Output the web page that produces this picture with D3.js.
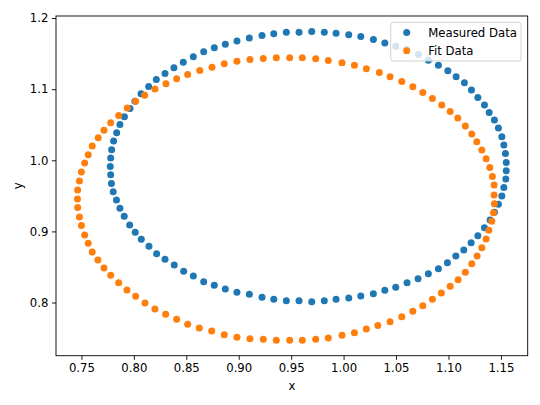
<!DOCTYPE html>
<html>
<head>
<meta charset="utf-8">
<script src="https://cdn.jsdelivr.net/npm/d3@7"></script>
<style>
  body { margin: 0; background: #fff; }
  svg { display: block; font-family: "DejaVu Sans", sans-serif; }
</style>
</head>
<body>
<svg id="chart" width="540" height="405"></svg>
<script>
// measured points
var measuredX = [1.1551,1.1551,1.1543,1.1528,1.1509,1.1476,1.1438,1.1388,1.1343,1.1280,
  1.1219,1.1152,1.1073,1.0994,1.0904,1.0808,1.0713,1.0602,1.0497,1.0393,
  1.0284,1.0164,1.0049,0.9928,0.9816,0.9696,0.9575,0.9454,0.9334,0.9222,
  0.9101,0.8983,0.8872,0.8767,0.8666,0.8567,0.8471,0.8382,0.8297,0.8214,
  0.8141,0.8068,0.8010,0.7963,0.7910,0.7867,0.7836,0.7807,0.7788,0.7779,
  0.7775,0.7779,0.7786,0.7803,0.7834,0.7867,0.7908,0.7960,0.8013,0.8071,
  0.8144,0.8217,0.8297,0.8385,0.8475,0.8567,0.8666,0.8767,0.8872,0.8983,
  0.9101,0.9222,0.9334,0.9454,0.9575,0.9696,0.9816,0.9928,1.0049,1.0164,
  1.0284,1.0393,1.0497,1.0605,1.0710,1.0808,1.0904,1.0990,1.1070,1.1146,
  1.1216,1.1280,1.1343,1.1397,1.1438,1.1476,1.1509,1.1528,1.1547];
var measuredY = [0.9852,0.9970,1.0097,1.0214,1.0330,1.0453,1.0565,1.0673,1.0776,1.0884,
  1.0987,1.1089,1.1174,1.1258,1.1338,1.1408,1.1488,1.1559,1.1605,1.1651,
  1.1699,1.1741,1.1764,1.1788,1.1802,1.1812,1.1802,1.1802,1.1778,1.1755,
  1.1718,1.1678,1.1633,1.1581,1.1525,1.1455,1.1380,1.1300,1.1221,1.1137,
  1.1039,1.0935,1.0832,1.0729,1.0611,1.0505,1.0387,1.0270,1.0148,1.0031,
  0.9914,0.9796,0.9675,0.9557,0.9441,0.9324,0.9212,0.9089,0.8987,0.8888,
  0.8790,0.8686,0.8607,0.8527,0.8438,0.8372,0.8292,0.8242,0.8190,0.8145,
  0.8115,0.8073,0.8045,0.8025,0.8025,0.8011,0.8025,0.8045,0.8063,0.8091,
  0.8124,0.8171,0.8214,0.8278,0.8334,0.8405,0.8475,0.8559,0.8654,0.8738,
  0.8840,0.8939,0.9051,0.9160,0.9268,0.9380,0.9497,0.9619,0.9736];

// fitted ellipse points
var fitX = [1.1435,1.1419,1.1394,1.1359,1.1318,1.1270,1.1222,1.1161,1.1089,1.1016,
  1.0936,1.0847,1.0755,1.0660,1.0555,1.0443,1.0341,1.0217,1.0103,0.9985,
  0.9854,0.9734,0.9606,0.9486,0.9358,0.9234,0.9107,0.8983,0.8862,0.8745,
  0.8628,0.8513,0.8408,0.8306,0.8201,0.8103,0.8017,0.7937,0.7855,0.7779,
  0.7715,0.7660,0.7603,0.7565,0.7531,0.7500,0.7481,0.7464,0.7462,0.7464,
  0.7481,0.7500,0.7531,0.7565,0.7603,0.7657,0.7715,0.7779,0.7855,0.7934,
  0.8017,0.8106,0.8201,0.8303,0.8408,0.8513,0.8624,0.8742,0.8862,0.8983,
  0.9107,0.9234,0.9358,0.9486,0.9606,0.9734,0.9854,0.9985,1.0103,1.0217,
  1.0326,1.0443,1.0555,1.0660,1.0755,1.0847,1.0932,1.1016,1.1092,1.1161,
  1.1222,1.1273,1.1318,1.1359,1.1385,1.1413,1.1429,1.1438,1.1435];
var fitY = [0.9651,0.9771,0.9900,1.0021,1.0143,1.0260,1.0368,1.0481,1.0593,1.0687,
  1.0776,1.0870,1.0954,1.1033,1.1109,1.1174,1.1235,1.1286,1.1338,1.1370,
  1.1404,1.1427,1.1441,1.1441,1.1441,1.1432,1.1418,1.1394,1.1356,1.1310,
  1.1264,1.1207,1.1145,1.1075,1.1001,1.0916,1.0832,1.0734,1.0631,1.0527,
  1.0424,1.0316,1.0200,1.0077,0.9961,0.9834,0.9708,0.9581,0.9455,0.9335,
  0.9204,0.9082,0.8951,0.8832,0.8710,0.8597,0.8485,0.8382,0.8278,0.8176,
  0.8087,0.7993,0.7909,0.7834,0.7764,0.7694,0.7642,0.7599,0.7547,0.7512,
  0.7491,0.7483,0.7469,0.7469,0.7469,0.7483,0.7501,0.7539,0.7575,0.7628,
  0.7677,0.7730,0.7800,0.7876,0.7955,0.8045,0.8133,0.8228,0.8320,0.8424,
  0.8545,0.8654,0.8770,0.8892,0.9015,0.9141,0.9262,0.9389,0.9511];

var xTicks = [0.75, 0.80, 0.85, 0.90, 0.95, 1.00, 1.05, 1.10, 1.15];
var yTicks = [0.8, 0.9, 1.0, 1.1, 1.2];
var seriesNames = ["Measured Data", "Fit Data"];
var seriesColors = ["#1f77b4", "#ff7f0e"];

var margin = {top: 16, right: 12.3, bottom: 49.3, left: 56},
    width = 540 - margin.left - margin.right,
    height = 405 - margin.top - margin.bottom;

var svg = d3.select("#chart");
var g = svg.append("g")
    .attr("transform", "translate(" + margin.left + "," + margin.top + ")");

// matplotlib style 5% padding around the data
function padded(vals) {
  var e = d3.extent(vals), p = (e[1] - e[0]) * 0.05;
  return [e[0] - p, e[1] + p];
}
var x = d3.scaleLinear().domain(padded(measuredX.concat(fitX))).range([0, width]);
var y = d3.scaleLinear().domain(padded(measuredY.concat(fitY))).range([height, 0]);

var series = [
  d3.zip(measuredX, measuredY),
  d3.zip(fitX, fitY)
];

series.forEach(function(pts, i) {
  g.append("g").selectAll("circle")
      .data(pts)
      .enter().append("circle")
      .attr("cx", function(d) { return x(d[0]); })
      .attr("cy", function(d) { return y(d[1]); })
      .attr("r", 3.5)
      .attr("fill", seriesColors[i]);
});

// axes
var xAxis = g.append("g")
    .attr("transform", "translate(0," + height + ")")
    .call(d3.axisBottom(x).tickValues(xTicks).tickFormat(d3.format(".2f")).tickSizeInner(4.1).tickSizeOuter(0).tickPadding(3.5));
var yAxis = g.append("g")
    .call(d3.axisLeft(y).tickValues(yTicks).tickFormat(d3.format(".1f")).tickSizeInner(4.1).tickSizeOuter(0).tickPadding(3.5));
[xAxis, yAxis].forEach(function(a) {
  a.select(".domain").remove();
  a.selectAll("line").attr("stroke", "#000").attr("stroke-width", 0.9);
  a.selectAll("text").attr("fill", "#000").style("font-size", "11.7px").style("font-family", "DejaVu Sans, sans-serif");
});

// frame
g.append("rect")
    .attr("width", width).attr("height", height)
    .attr("fill", "none").attr("stroke", "#000").attr("stroke-width", 0.9);

svg.append("text")
    .attr("x", margin.left + width / 2).attr("y", 390)
    .attr("text-anchor", "middle").style("font-size", "11.7px")
    .text("x");
svg.append("text")
    .attr("transform", "translate(22," + (margin.top + height / 2) + ") rotate(-90)")
    .attr("text-anchor", "middle").style("font-size", "11.7px")
    .text("y");

// legend
var legend = svg.append("g").attr("transform", "translate(390.7,22.3)");
legend.append("rect")
    .attr("width", 130.3).attr("height", 38.7).attr("rx", 2.5)
    .attr("fill", "rgba(255,255,255,0.8)").attr("stroke", "#cccccc").attr("stroke-width", 0.9);
seriesNames.forEach(function(name, i) {
  var row = legend.append("g").attr("transform", "translate(0," + (10.2 + i * 18.3) + ")");
  row.append("circle").attr("cx", 16).attr("cy", 0).attr("r", 3.5).attr("fill", seriesColors[i]);
  row.append("text").attr("x", 37.5).attr("y", 4.2)
      .style("font-size", "11.7px").text(name);
});
</script>
</body>
</html>
